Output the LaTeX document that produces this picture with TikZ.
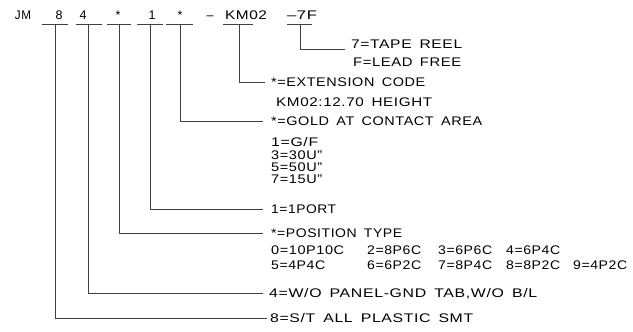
\documentclass[tikz,border=0pt]{standalone}
\usepackage{graphicx}
\usepackage{fontspec}
\setmainfont{Liberation Sans}[LetterSpace=4,WordSpace=1.6]
\newsavebox{\fwbox}
\newcommand{\fw}[2]{\sbox{\fwbox}{#2}\pgfmathsetmacro{\fwfac}{#1/\the\wd\fwbox}\scalebox{\fwfac}[1]{\usebox{\fwbox}}}
\begin{document}
\begin{tikzpicture}[x=1pt,y=-1pt,
  lbl/.style={anchor=base,inner sep=0pt,font=\fontsize{12.5}{12.5}\selectfont},
  txt/.style={anchor=west,inner sep=0pt,text height=9pt,text depth=0pt,font=\fontsize{12.5}{12.5}\selectfont},
  ln/.style={draw=black!75,line width=0.8pt}]
\useasboundingbox (0,0) rectangle (633,332);
% top row
\node[lbl] (jm) at (23,19.5) {\fw{16pt}{JM}};
\node[lbl] (p8) at (59,19.5) {8};
\node[lbl] (p4) at (83,19.5) {4};
\node[lbl] (pa) at (118,19.5) {*};
\node[lbl] (p1) at (152,19.5) {1};
\node[lbl] (pb) at (180,19.5) {*};
\node[lbl] (dash) at (210,19.5) {–};
\node[lbl] (km) at (246,19.5) {\fw{42pt}{KM02}};
\node[lbl] (sf) at (302,19.5) {\fw{30pt}{–7F}};
% underlines
\coordinate (a8) at (42,24);  \coordinate (b8) at (68,24);
\coordinate (a4) at (76,24);  \coordinate (b4) at (102,24);
\coordinate (aa) at (107,24); \coordinate (ba) at (131,24);
\coordinate (a1) at (137,24); \coordinate (b1) at (163,24);
\coordinate (ab) at (166,24); \coordinate (bb) at (193,24);
\coordinate (ak) at (223,24); \coordinate (bk) at (253,24);
\coordinate (as) at (287,24); \coordinate (bs) at (312,24);
\foreach \n in {8,4,a,1,b,k,s} {\draw[ln] (a\n) -- (b\n);}
% stems
\coordinate (u8) at (55,24);
\coordinate (u4) at (88,24);
\coordinate (ua) at (119,24);
\coordinate (u1) at (150,24);
\coordinate (ub) at (180,24);
\coordinate (uk) at (239,24);
\coordinate (us) at (300,24);
% texts
\node[txt] (t7a) at (351,44) {\fw{111pt}{7=TAPE REEL}};
\node[txt] (t7b) at (353,62) {\fw{108pt}{F=LEAD FREE}};
\node[txt] (tk1) at (271,82) {\fw{154pt}{*=EXTENSION CODE}};
\node[txt] (tk2) at (276,101.5) {\fw{156pt}{KM02:12.70 HEIGHT}};
\node[txt] (tg1) at (271,121) {\fw{211pt}{*=GOLD AT CONTACT AREA}};
\node[txt] (tg2) at (271,142) {\fw{47pt}{1=G/F}};
\node[txt] (tg3) at (271,154.5) {\fw{51pt}{3=30U"}};
\node[txt] (tg4) at (271,166.5) {\fw{51pt}{5=50U"}};
\node[txt] (tg5) at (271,178.5) {\fw{51pt}{7=15U"}};
\node[txt] (tp) at (271,209) {\fw{65pt}{1=1PORT}};
\node[txt] (tt1) at (271,233) {\fw{131pt}{*=POSITION TYPE}};
\node[txt] (r1a) at (271,250) {\fw{73pt}{0=10P10C}};
\node[txt] (r1b) at (367,250) {\fw{54pt}{2=8P6C}};
\node[txt] (r1c) at (438,250) {\fw{54pt}{3=6P6C}};
\node[txt] (r1d) at (506,250) {\fw{54pt}{4=6P4C}};
\node[txt] (r2a) at (271,265) {\fw{54pt}{5=4P4C}};
\node[txt] (r2b) at (367,265) {\fw{54pt}{6=6P2C}};
\node[txt] (r2c) at (438,265) {\fw{54pt}{7=8P4C}};
\node[txt] (r2d) at (506,265) {\fw{54pt}{8=8P2C}};
\node[txt] (r2e) at (573,265) {\fw{54pt}{9=4P2C}};
\node[txt] (tw) at (269,293) {\fw{268pt}{4=W/O PANEL-GND TAB,W/O B/L}};
\node[txt] (tsmt) at (270,318) {\fw{203pt}{8=S/T ALL PLASTIC SMT}};
% connectors
\coordinate (es) at (345,49);
\draw[ln] (us) |- (es);
\draw[ln] (uk) |- ([xshift=-6pt]tk1.west);
\draw[ln] (ub) |- ([xshift=-8pt]tg1.west);
\draw[ln] (u1) |- ([xshift=-8pt]tp.west);
\draw[ln] (ua) |- ([xshift=-8pt]tt1.west);
\draw[ln] (u4) |- ([xshift=-6pt]tw.west);
\draw[ln] (u8) |- ([xshift=-3pt]tsmt.west);
\end{tikzpicture}
\end{document}
